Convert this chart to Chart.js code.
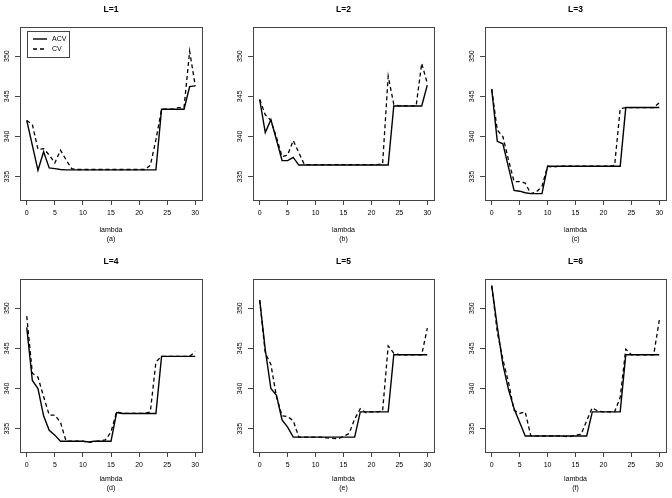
<!DOCTYPE html>
<html>
<head>
<meta charset="utf-8">
<script src="https://cdn.jsdelivr.net/npm/chart.js@4.4.0/dist/chart.umd.min.js"></script>
<style>
  html, body { margin: 0; padding: 0; background: #fff; }
  #wrap { position: relative; width: 672px; height: 498px; }
  .cell { position: absolute; width: 224px; height: 249px; }
</style>
</head>
<body>
<div id="wrap"></div>
<script>
// Cross-validation score (ACV vs CV) against lambda, one panel per L.
const LAMBDA = [0, 1, 2, 3, 4, 5, 6, 7, 8, 9, 10, 11, 12, 13, 14, 15,
                16, 17, 18, 19, 20, 21, 22, 23, 24, 25, 26, 27, 28, 29, 30];
const X_TICKS = [0, 5, 10, 15, 20, 25, 30];
const Y_TICKS = [335, 340, 345, 350];
const TITLES = ['L=1', 'L=2', 'L=3', 'L=4', 'L=5', 'L=6'];
const SUBLABELS = ['(a)', '(b)', '(c)', '(d)', '(e)', '(f)'];
const SERIES_NAMES = ['ACV', 'CV'];

const ACV_L1 = [342.0, 338.9, 335.8, 338.1, 336.1, 336.0, 335.9, 335.85, 335.85, 335.85, 335.85,
                335.85, 335.85, 335.85, 335.85, 335.85, 335.85, 335.85, 335.85, 335.85, 335.85,
                335.85, 335.85, 335.85, 343.4, 343.4, 343.4, 343.4, 343.4, 346.2, 346.3];
const CV_L1  = [342.0, 341.5, 338.4, 338.5, 337.7, 336.7, 338.3, 337.1, 336.0, 335.9, 335.9,
                335.9, 335.9, 335.9, 335.9, 335.9, 335.9, 335.9, 335.9, 335.9, 335.9,
                335.9, 336.4, 339.6, 343.4, 343.4, 343.4, 343.6, 343.6, 350.6, 346.3];

const ACV_L2 = [344.6, 340.5, 342.1, 339.6, 337.0, 337.0, 337.4, 336.45, 336.45, 336.45, 336.45,
                336.45, 336.45, 336.45, 336.45, 336.45, 336.45, 336.45, 336.45, 336.45, 336.45,
                336.45, 336.45, 336.45, 343.8, 343.8, 343.8, 343.8, 343.8, 343.8, 346.4];
const CV_L2  = [344.6, 342.7, 342.0, 339.9, 337.5, 337.7, 339.5, 338.0, 336.5, 336.5, 336.5,
                336.5, 336.5, 336.5, 336.5, 336.5, 336.5, 336.5, 336.5, 336.5, 336.5,
                336.5, 336.6, 347.5, 344.0, 343.8, 343.8, 343.8, 343.8, 349.1, 346.6];

const ACV_L3 = [345.9, 339.4, 339.1, 336.2, 333.3, 333.2, 333.0, 332.9, 332.9, 332.9, 336.3,
                336.3, 336.3, 336.3, 336.3, 336.3, 336.3, 336.3, 336.3, 336.3, 336.3,
                336.3, 336.3, 336.3, 343.6, 343.6, 343.6, 343.6, 343.6, 343.6, 343.6];
const CV_L3  = [345.9, 340.8, 340.0, 337.1, 334.4, 334.4, 334.2, 332.9, 333.1, 333.8, 336.3,
                336.2, 336.3, 336.3, 336.3, 336.3, 336.3, 336.3, 336.3, 336.3, 336.3,
                336.3, 336.4, 343.45, 343.6, 343.6, 343.6, 343.6, 343.6, 343.6, 344.2];

const ACV_L4 = [347.6, 341.0, 340.0, 336.6, 334.8, 334.2, 333.45, 333.45, 333.45, 333.45, 333.45,
                333.35, 333.45, 333.45, 333.45, 333.45, 337.0, 336.9, 336.9, 336.9, 336.9,
                336.9, 336.9, 336.9, 344.0, 344.0, 344.0, 344.0, 344.0, 344.0, 344.0];
const CV_L4  = [349.0, 341.9, 341.4, 339.0, 336.7, 336.7, 335.8, 333.45, 333.45, 333.45, 333.45,
                333.3, 333.4, 333.5, 333.6, 334.6, 337.1, 336.9, 336.9, 336.9, 336.9,
                336.9, 337.1, 343.3, 344.0, 344.0, 344.0, 344.0, 344.0, 344.0, 344.6];

const ACV_L5 = [351.0, 344.8, 340.0, 339.15, 336.1, 335.2, 333.95, 333.95, 333.95, 333.95, 333.95,
                333.95, 333.95, 333.95, 333.95, 333.95, 333.95, 333.95, 337.1, 337.1, 337.1,
                337.1, 337.1, 337.1, 344.2, 344.2, 344.2, 344.2, 344.2, 344.2, 344.2];
const CV_L5  = [351.0, 344.4, 343.0, 339.0, 336.6, 336.5, 336.0, 333.95, 333.95, 333.95, 333.95,
                333.95, 333.85, 333.8, 333.75, 334.05, 334.4, 336.2, 337.5, 337.0, 337.1,
                337.1, 337.2, 345.3, 344.4, 344.2, 344.2, 344.2, 344.2, 344.2, 347.5];

const ACV_L6 = [352.8, 347.7, 343.0, 339.9, 337.5, 335.8, 334.1, 334.1, 334.1, 334.1, 334.1,
                334.1, 334.1, 334.1, 334.1, 334.1, 334.1, 334.1, 337.1, 337.1, 337.1,
                337.1, 337.1, 337.1, 344.2, 344.2, 344.2, 344.2, 344.2, 344.2, 344.2];
const CV_L6  = [352.8, 347.0, 343.6, 340.8, 337.3, 336.9, 337.1, 334.1, 334.1, 334.1, 334.1,
                334.1, 334.1, 334.05, 334.0, 334.2, 334.3, 336.0, 337.6, 337.2, 337.1,
                337.1, 337.1, 338.9, 344.9, 344.2, 344.2, 344.2, 344.2, 344.2, 348.5];

const ACV = [ACV_L1, ACV_L2, ACV_L3, ACV_L4, ACV_L5, ACV_L6];
const CV = [CV_L1, CV_L2, CV_L3, CV_L4, CV_L5, CV_L6];

// R-style axis ranges: data range widened by 4% on each side, shared by all panels.
const allY = ACV.concat(CV).flat();
const yLo = Math.min(...allY), yHi = Math.max(...allY);
const Y_MIN = yLo - 0.04 * (yHi - yLo), Y_MAX = yHi + 0.04 * (yHi - yLo);
const xLo = Math.min(...LAMBDA), xHi = Math.max(...LAMBDA);
const X_MIN = xLo - 0.04 * (xHi - xLo), X_MAX = xHi + 0.04 * (xHi - xLo);

// Panel geometry (per column / per row), in px inside each 224x249 cell.
const PAD_LEFT = [0, 9, 17];
const PAD_RIGHT = [22, 14, 6];
const TITLE_TOP = [5, 8];
const X_AXIS_H = [49, 46];

const FONT = "'Liberation Sans', Arial, Helvetica, sans-serif";
const INK = '#000';
const BOX = '#444';

Chart.defaults.font.family = FONT;
Chart.defaults.font.size = 7;
Chart.defaults.color = INK;

// Plot frame like R's box().
const boxPlugin = {
    id: 'rbox',
    afterDraw(chart) {
        const a = chart.chartArea, ctx = chart.ctx;
        ctx.save();
        ctx.strokeStyle = BOX;
        ctx.lineWidth = 1;
        ctx.strokeRect(Math.round(a.left) + 0.5, Math.round(a.top) + 0.5,
                       Math.round(a.right - a.left), Math.round(a.bottom - a.top));
        ctx.restore();
    },
};

// Boxed legend in the top-left of the first panel.
const insetLegend = {
    id: 'insetLegend',
    afterDraw(chart, args, opts) {
        if (!opts.show) return;
        const a = chart.chartArea, ctx = chart.ctx;
        const x0 = Math.round(a.left) + 7, y0 = Math.round(a.top) + 4;
        ctx.save();
        ctx.strokeStyle = BOX;
        ctx.lineWidth = 1;
        ctx.strokeRect(x0 + 0.5, y0 + 0.5, 42, 26);
        chart.data.datasets.forEach((ds, k) => {
            const y = y0 + 8 + k * 10;
            ctx.strokeStyle = ds.borderColor;
            ctx.lineWidth = ds.borderWidth;
            ctx.setLineDash(ds.borderDash || []);
            ctx.beginPath();
            ctx.moveTo(x0 + 6, y);
            ctx.lineTo(x0 + 20, y);
            ctx.stroke();
            ctx.setLineDash([]);
            ctx.fillStyle = INK;
            ctx.font = '7px ' + FONT;
            ctx.textBaseline = 'middle';
            ctx.fillText(ds.label, x0 + 25, y);
        });
        ctx.restore();
    },
};

function points(values) {
    return LAMBDA.map((x, k) => ({ x, y: values[k] }));
}

const wrap = document.getElementById('wrap');

TITLES.forEach((title, i) => {
    const row = Math.floor(i / 3), col = i % 3;
    const cell = document.createElement('div');
    cell.className = 'cell';
    cell.style.left = (col * 224) + 'px';
    cell.style.top = (row * 249) + 'px';
    const canvas = document.createElement('canvas');
    canvas.width = 224;
    canvas.height = 249;
    cell.appendChild(canvas);
    wrap.appendChild(cell);

    const gridOpts = { drawOnChartArea: false, drawTicks: true, tickLength: 5, color: BOX, lineWidth: 1 };

    new Chart(canvas, {
        type: 'line',
        data: {
            datasets: [
                { label: SERIES_NAMES[0], data: points(ACV[i]), borderColor: '#000', borderWidth: 1.4,
                  pointRadius: 0, tension: 0, fill: false },
                { label: SERIES_NAMES[1], data: points(CV[i]), borderColor: '#000', borderWidth: 1.3,
                  borderDash: [4, 3], pointRadius: 0, tension: 0, fill: false },
            ],
        },
        options: {
            responsive: false,
            animation: false,
            devicePixelRatio: 1,
            layout: { padding: { left: PAD_LEFT[col], right: PAD_RIGHT[col], top: 0, bottom: 0 } },
            plugins: {
                legend: { display: false },
                tooltip: { enabled: false },
                title: {
                    display: true,
                    text: title,
                    fullSize: false,
                    color: INK,
                    font: { size: 8.5, weight: 'bold', lineHeight: 1.2 },
                    padding: { top: TITLE_TOP[row], bottom: 12 },
                },
                insetLegend: { show: i === 0 },
            },
            scales: {
                x: {
                    type: 'linear',
                    min: X_MIN,
                    max: X_MAX,
                    afterBuildTicks: s => { s.ticks = X_TICKS.map(v => ({ value: v })); },
                    afterFit: s => { s.height = X_AXIS_H[row]; },
                    grid: gridOpts,
                    border: { display: false },
                    ticks: { autoSkip: false, maxRotation: 0, padding: 4, color: INK },
                    title: {
                        display: true,
                        text: ['lambda', SUBLABELS[i]],
                        color: INK,
                        font: { size: 7, lineHeight: 1.3 },
                        padding: { top: 0, bottom: 5 },
                    },
                },
                y: {
                    type: 'linear',
                    min: Y_MIN,
                    max: Y_MAX,
                    afterBuildTicks: s => { s.ticks = Y_TICKS.map(v => ({ value: v })); },
                    afterFit: s => { s.width = 20; },
                    grid: gridOpts,
                    border: { display: false },
                    ticks: { autoSkip: false, minRotation: 90, maxRotation: 90, crossAlign: 'center',
                             padding: 2, color: INK },
                },
            },
        },
        plugins: [boxPlugin, insetLegend],
    });
});
</script>
</body>
</html>
